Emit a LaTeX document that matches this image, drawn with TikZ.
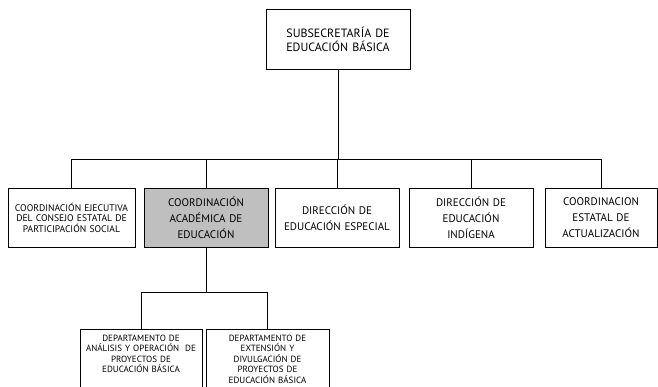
\documentclass[tikz,border=0pt]{standalone}
\usepackage{fontspec}
\setmainfont{PT Sans}
\usetikzlibrary{positioning}

\def\busY{-159}
\def\subbusY{-292}

\begin{document}
\begin{tikzpicture}[x=1pt, y=1pt,
    unidad/.style={
      draw, line width=0.9pt, align=center, inner sep=3pt,
      minimum width=124, minimum height=59
    },
    fila/.style={
      unidad, font=\fontsize{11}{16}\selectfont, text width=118
    },
    depto/.style={
      unidad, anchor=north, font=\fontsize{9}{10.5}\selectfont,
      minimum width=122, text width=116, text height=9, text depth=55
    },
    rama/.style={line width=0.8pt}
  ]
      \useasboundingbox (0,0) rectangle (658,-387);

      \node[unidad, minimum width=144, minimum height=60,
        font=\fontsize{12}{14}\selectfont, text width=138]
        (subsecretaria) at (338,-39)
        {SUBSECRETARÍA DE\\EDUCACIÓN BÁSICA\\[6pt]}
      ;

      \node[fila, minimum width=123, text width=121,
        font=\fontsize{9.6}{10.5}\selectfont]
        (ejecutiva) at (71.5,-217.5)
        {COORDINACIÓN EJECUTIVA\\DEL CONSEJO ESTATAL DE\\PARTICIPACIÓN SOCIAL}
      ;
      \node[fila, fill=black!25]
        (academica) at (206,-217.5)
        {COORDINACIÓN\\ACADÉMICA DE\\EDUCACIÓN}
      ;
      \node[fila]
        (especial) at (337,-217.5)
        {DIRECCIÓN DE\\EDUCACIÓN ESPECIAL}
      ;
      \node[fila]
        (indigena) at (471,-217.5)
        {DIRECCIÓN DE\\EDUCACIÓN\\INDÍGENA}
      ;
      \node[fila, minimum width=112, text width=106]
        (actualizacion) at (601,-217.5)
        {COORDINACION\\ESTATAL DE\\ACTUALIZACIÓN}
      ;

      \node[depto]
        (analisis) at (141,-329)
        {DEPARTAMENTO DE\\ANÁLISIS Y OPERACIÓN~ DE\\PROYECTOS DE\\EDUCACIÓN BÁSICA}
      ;
      \node[depto, minimum width=123]
        (extension) at (267.5,-329)
        {DEPARTAMENTO DE\\EXTENSIÓN Y\\DIVULGACIÓN DE\\PROYECTOS DE\\EDUCACIÓN BÁSICA}
      ;

      \coordinate (bus) at (0,\busY);
      \coordinate (subbus) at (0,\subbusY);

      \draw[rama]
        (subsecretaria.south) -- (subsecretaria.south |- bus)
        (ejecutiva.north |- bus) -- (actualizacion.north |- bus)
      ;
      \foreach \n in {ejecutiva,academica,especial,indigena,actualizacion}
        \draw[rama] (\n.north |- bus) -- (\n.north);

      \draw[rama]
        (academica.south) -- (academica.south |- subbus)
        (analisis.north |- subbus) -- (extension.north |- subbus)
      ;
      \foreach \n in {analisis,extension}
        \draw[rama] (\n.north |- subbus) -- (\n.north);
    \end{tikzpicture}
\end{document}
